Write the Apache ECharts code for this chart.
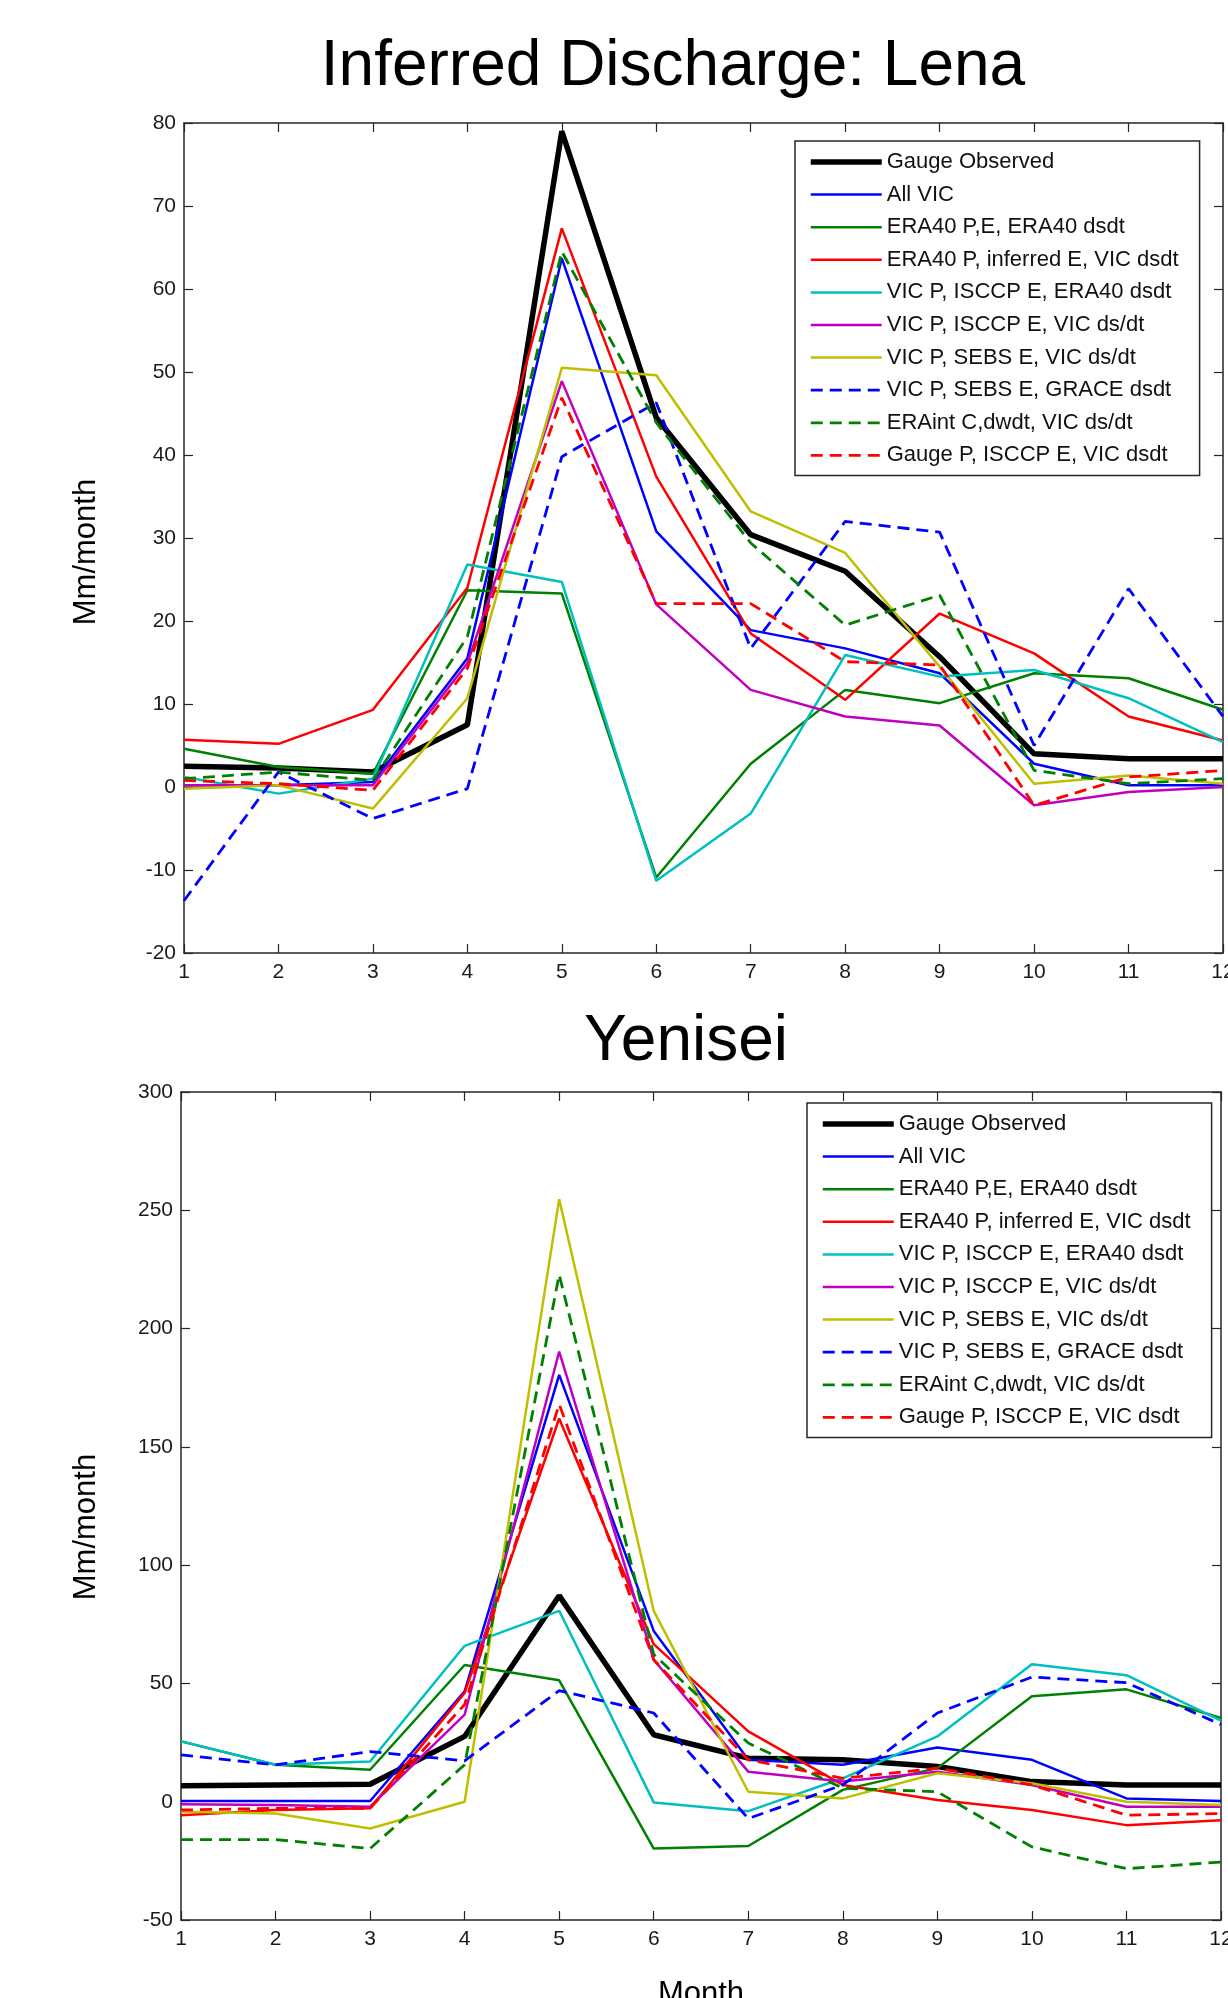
<!DOCTYPE html>
<html>
<head>
<meta charset="utf-8">
<title>Inferred Discharge</title>
<script src="https://cdn.jsdelivr.net/npm/echarts@6/dist/echarts.min.js"></script>
<style>
  html, body { margin: 0; padding: 0; background: #fff; }
  #chart { width: 1228px; height: 1998px; }
</style>
</head>
<body>
<div id="chart"></div>
<script>
  "use strict";

  var months = [1, 2, 3, 4, 5, 6, 7, 8, 9, 10, 11, 12];

  var seriesNames = [
    "Gauge Observed",
    "All VIC",
    "ERA40 P,E, ERA40 dsdt",
    "ERA40 P, inferred E, VIC dsdt",
    "VIC P, ISCCP E, ERA40 dsdt",
    "VIC P, ISCCP E, VIC ds/dt",
    "VIC P, SEBS E, VIC ds/dt",
    "VIC P, SEBS E, GRACE dsdt",
    "ERAint C,dwdt, VIC ds/dt",
    "Gauge P, ISCCP E, VIC dsdt"
  ];

  // Lena (Mm/month)
  var lenaGauge        = [2.5, 2.3, 1.8, 7.5, 79, 44.5, 30.4, 26.0, 15.7, 4.0, 3.4, 3.4];
  var lenaAllVic       = [0.2, 0.2, 0.6, 15.5, 63.7, 30.8, 18.9, 16.7, 13.7, 2.8, 0.2, 0.2];
  var lenaEra40        = [4.6, 2.4, 1.6, 23.7, 23.3, -10.9, 2.8, 11.7, 10.1, 13.7, 13.1, 9.3];
  var lenaEra40InfE    = [5.7, 5.2, 9.3, 24, 67.3, 37.4, 18.5, 10.5, 20.9, 16.1, 8.5, 5.6];
  var lenaIsccpEra40   = [1.2, -0.8, 1.0, 26.8, 24.7, -11.3, -3.2, 15.9, 13.3, 14.1, 10.7, 5.4];
  var lenaIsccpVic     = [0.2, 0.2, 0.2, 14.9, 48.9, 22.0, 11.7, 8.5, 7.4, -2.2, -0.6, 0];
  var lenaSebsVic      = [-0.2, 0.2, -2.6, 10.7, 50.5, 49.6, 33.2, 28.2, 14.5, 0.4, 1.4, 0.4];
  var lenaSebsGrace    = [-13.7, 1.8, -3.8, -0.2, 39.8, 46.3, 16.7, 32.0, 30.7, 5.0, 23.9, 8.5];
  var lenaEraInt       = [1.0, 1.8, 0.8, 18.1, 64.5, 43.9, 29.4, 19.5, 23.1, 2.0, 0.4, 1.0];
  var lenaGaugeP       = [0.8, 0.4, -0.4, 14.3, 46.9, 22.1, 22.1, 15.1, 14.7, -2.2, 1.2, 2.0];

  // Yenisei (Mm/month)
  var yenGauge         = [6.7, 7.1, 7.4, 27.6, 87.1, 28.3, 18.4, 17.7, 14.9, 8.5, 7.1, 7.1];
  var yenAllVic        = [0.3, 0.3, 0.3, 46.7, 180.4, 72.2, 17.7, 15.6, 22.9, 17.7, 1.4, 0.3];
  var yenEra40         = [25.5, 15.6, 13.5, 57.8, 51.3, -19.8, -18.7, 5.0, 14.2, 44.6, 47.5, 35.4];
  var yenEra40InfE     = [-5.7, -3.5, -2.8, 46.0, 162, 66.6, 29.7, 7.1, 0.7, -3.5, -9.9, -7.8];
  var yenIsccpEra40    = [25.5, 15.6, 17.0, 65.9, 80.7, -0.3, -4.0, 9.9, 27.6, 58.1, 53.5, 34.3];
  var yenIsccpVic      = [-1.1, -1.4, -2.1, 36.8, 190.3, 60, 12.7, 8.5, 12.7, 7.1, -2.1, -2.1];
  var yenSebsVic       = [-4.2, -5.0, -11.3, 0, 254.7, 80.7, 4.2, 1.4, 12.0, 7.8, 0, -1.4];
  var yenSebsGrace     = [19.8, 15.6, 21.2, 17.3, 47.0, 37.5, -7.1, 7.1, 37.5, 52.7, 50.3, 32.6];
  var yenEraInt        = [-16.0, -16.0, -19.8, 15.6, 222.8, 62.3, 24.8, 5.7, 4.2, -19.1, -28.3, -25.5];
  var yenGaugeP        = [-3.5, -2.8, -2.8, 41.1, 168, 60, 17.7, 9.9, 14.2, 7.1, -5.7, -5.0];

  var lenaValues = [lenaGauge, lenaAllVic, lenaEra40, lenaEra40InfE, lenaIsccpEra40,
    lenaIsccpVic, lenaSebsVic, lenaSebsGrace, lenaEraInt, lenaGaugeP];
  var yenValues = [yenGauge, yenAllVic, yenEra40, yenEra40InfE, yenIsccpEra40,
    yenIsccpVic, yenSebsVic, yenSebsGrace, yenEraInt, yenGaugeP];

  // line styles, in legend order (matlab colours)
  var lineColors = ["#000000", "#0000ff", "#008000", "#ff0000", "#00bfbf",
    "#bf00bf", "#bfbf00", "#0000ff", "#008000", "#ff0000"];
  var lineWidths = [5.5, 2.5, 2.5, 2.5, 2.5, 2.5, 2.5, 2.8, 2.8, 2.8];
  var lineTypes = ["solid", "solid", "solid", "solid", "solid",
    "solid", "solid", [12, 7], [12, 7], [12, 7]];

  var FONT = "'Liberation Sans', Arial, Helvetica, sans-serif";
  var AXIS_COLOR = "#262626";

  var chart = echarts.init(document.getElementById("chart"), null, { renderer: "canvas" });

  function makeSeries(values, axisIdx) {
    return values.map(function (vals, i) {
      return {
        type: "line",
        name: seriesNames[i],
        xAxisIndex: axisIdx,
        yAxisIndex: axisIdx,
        data: months.map(function (m, j) { return [m, vals[j]]; }),
        symbol: "none",
        showSymbol: false,
        silent: true,
        lineStyle: { color: lineColors[i], width: lineWidths[i], type: lineTypes[i] },
        itemStyle: { color: lineColors[i] },
        z: 2
      };
    });
  }

  function xAxisPair(gridIdx) {
    var base = {
      type: "value",
      gridIndex: gridIdx,
      min: 1,
      max: 12,
      interval: 1,
      splitLine: { show: false },
      axisLine: { onZero: false, lineStyle: { color: AXIS_COLOR, width: 1.5 } },
      axisTick: { inside: true, length: 9, lineStyle: { color: AXIS_COLOR, width: 1.2 } }
    };
    return [
      Object.assign({}, base, {
        position: "bottom",
        axisLabel: { color: "#1a1a1a", fontFamily: FONT, fontSize: 21, margin: 9 }
      }),
      Object.assign({}, base, {
        position: "top",
        axisLabel: { show: false }
      })
    ];
  }

  function yAxisPair(gridIdx, min, max, step) {
    var base = {
      type: "value",
      gridIndex: gridIdx,
      min: min,
      max: max,
      interval: step,
      splitLine: { show: false },
      axisLine: { show: true, onZero: false, lineStyle: { color: AXIS_COLOR, width: 1.5 } },
      axisTick: { show: true, inside: true, length: 9, lineStyle: { color: AXIS_COLOR, width: 1.2 } }
    };
    return [
      Object.assign({}, base, {
        position: "left",
        axisLabel: { color: "#1a1a1a", fontFamily: FONT, fontSize: 21, margin: 8 }
      }),
      Object.assign({}, base, {
        position: "right",
        axisLabel: { show: false }
      })
    ];
  }

  function makeLegend(left, top) {
    return {
      orient: "vertical",
      left: left,
      top: top,
      padding: [9, 21, 8, 13],
      itemWidth: 71,
      itemHeight: 14,
      itemGap: 8.6,
      selectedMode: false,
      backgroundColor: "#ffffff",
      borderColor: AXIS_COLOR,
      borderWidth: 1.5,
      borderRadius: 0,
      itemStyle: { opacity: 0 },
      lineStyle: { width: "inherit", type: "inherit" },
      textStyle: { color: "#111", fontFamily: FONT, fontSize: 22, lineHeight: 24 },
      data: seriesNames.map(function (n) { return n; })
    };
  }

  function label(text, x, y, size, rot) {
    return {
      type: "text",
      x: x,
      y: y,
      rotation: rot || 0,
      silent: true,
      style: {
        text: text,
        fill: "#000",
        font: "normal " + size + "px " + FONT,
        align: "center",
        verticalAlign: "middle"
      }
    };
  }

  var option = {
    animation: false,
    backgroundColor: "#ffffff",
    grid: [
      { left: 184, top: 123, width: 1039, height: 830, show: false, outerBoundsMode: "none", containLabel: false },
      { left: 181, top: 1092, width: 1040, height: 828, show: false, outerBoundsMode: "none", containLabel: false }
    ],
    xAxis: xAxisPair(0).concat(xAxisPair(1)),
    yAxis: yAxisPair(0, -20, 80, 10).concat(yAxisPair(1, -50, 300, 50)),
    legend: [makeLegend(795, 141), makeLegend(807, 1103)],
    series: makeSeries(lenaValues, 0).concat(makeSeries(yenValues, 2)),
    graphic: [
      label("Inferred Discharge: Lena", 673, 67, 64),
      label("Yenisei", 686, 1042, 64),
      label("Mm/month", 86, 552, 31, Math.PI / 2),
      label("Mm/month", 86, 1527, 31, Math.PI / 2),
      label("Month", 701, 1994, 31)
    ]
  };

  chart.setOption(option);
</script>
</body>
</html>
